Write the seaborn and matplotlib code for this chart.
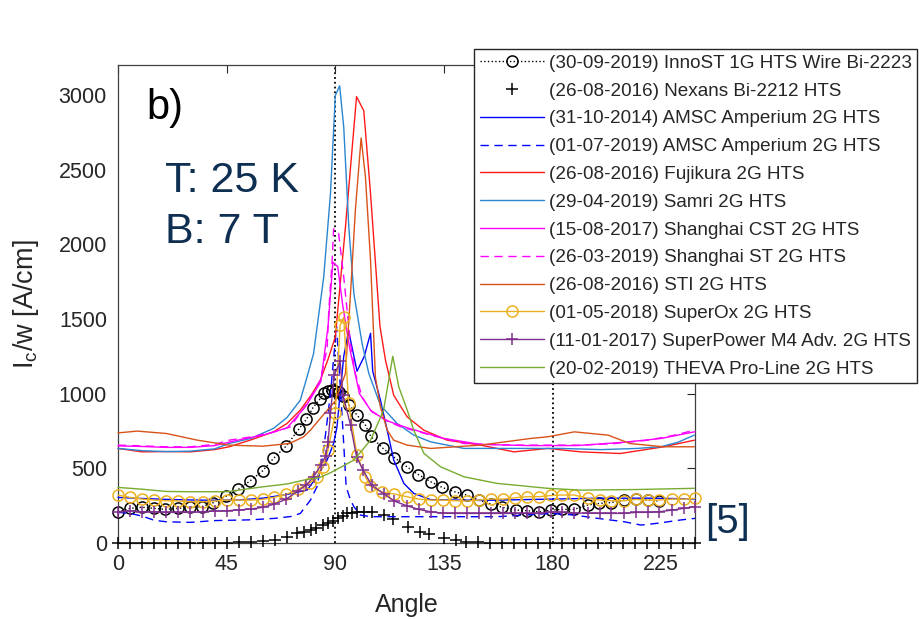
import matplotlib
matplotlib.use("Agg")
import matplotlib.pyplot as plt
import seaborn as sns

# ---- data: critical current per width (A/cm) versus field angle (deg), 25 K / 7 T ----
innost_angle = [0, 5, 10, 15, 19.5, 25, 30, 34.7, 39.5, 44.8, 49.9, 54.8, 59.9, 64.4, 69.7,
                74.8, 78, 80.8, 83.8, 85.5, 87, 88.5, 90, 91.5, 93, 95.6, 99, 102.5, 104.6,
                109.8, 114.5, 119.5, 124.4, 129.5, 134.3, 139.4, 144.4, 149.5, 154.4, 159.2,
                164.7, 169.6, 174.4, 179.3, 184.1, 188.9, 194.5, 199.3, 204.1, 209.7, 214.5,
                219.4, 224.2]
innost_jc = [209, 232, 239, 232, 225, 232, 239, 243, 270, 314, 359, 417, 483, 566, 650,
             760, 827, 907, 967, 1005, 1020, 1025, 1020, 1010, 985, 925, 856, 789, 715,
             633, 572, 512, 458, 410, 372, 343, 321, 287, 261, 239,
             221, 216, 209, 220, 225, 225, 254, 265, 270, 287, 294,
             287, 281]

nexans_angle = [0, 5, 10, 15, 20, 25, 30, 35, 40, 45, 50, 55, 60, 65, 70, 74, 77, 80, 82, 85,
                87, 89, 91, 93, 95, 97, 99, 102, 105, 110, 114, 120, 125, 129, 135, 140, 144,
                149, 154, 159, 164, 169, 174, 179, 184, 189, 194, 199, 204, 209, 214, 219,
                224, 229, 234, 239]
nexans_jc = [0, 0, 0, 0, 0, 0, 0, 0, 0, 2, 5, 9, 13, 20, 38, 65, 76, 87, 98, 120,
             136, 149, 165, 180, 198, 200, 210, 210, 205, 190, 158, 109, 76, 60, 31, 20, 9,
             5, 2, 0, 0, 0, 0, 0, 0, 0, 0, 0, 0, 0, 0, 0,
             0, 0, 0, 0]

amsc14_angle = [0, 10, 20, 30, 40, 50, 60, 70, 78.3, 82.4, 86.6, 89.3, 90.7, 92, 93.5,
                95.5, 99, 102, 104.6, 105.5, 108.7, 111.5, 114.2, 118.4, 122.5, 129.5,
                150, 180, 200, 220, 239]
amsc14_jc = [305, 298, 292, 288, 286, 288, 300, 325, 354, 443, 555, 666, 778, 1000, 1250,
             1420, 1150, 1250, 1404, 1150, 956, 755, 555, 399, 332, 290,
             285, 294, 300, 300, 295]

amsc19_angle = [0, 5, 10, 15, 20, 30, 40, 55, 65, 72, 75.5, 79.7, 82.4, 85, 88, 90.5, 93,
                94.5, 96.3, 97.7, 100.4, 104.6, 130, 157, 179, 189, 198.6, 209.7, 216.6,
                223.5, 233, 239]
amsc19_jc = [205, 198, 180, 152, 142, 138, 150, 155, 165, 178, 198, 287, 376, 600, 1000, 1450, 800,
             376, 287, 243, 187, 176, 176, 176, 198, 187, 165, 142, 120,
             132, 154, 165]

fujikura_angle = [0, 10, 20, 30, 40, 46, 55, 64.4, 70, 75.5, 80, 83.8, 87, 90, 94.2, 98.8,
                  101.8, 104.6, 108.5, 110.8, 114.2, 119.8, 126.7, 136.4, 150.2, 164, 177.9,
                  191.7, 208, 226, 238.7]
fujikura_jc = [633, 610, 612, 610, 625, 644, 690, 744, 800, 889, 990, 1090, 1230, 1379, 2114, 2988,
               2894, 2338, 1450, 1223, 989, 844, 755, 688, 655, 610, 633,
               610, 599, 644, 688]

samri_angle = [0, 10, 20, 30, 40, 46, 55, 64.4, 70, 75.5, 78.3, 81, 85.2, 88, 90, 91.8, 93.5,
               95.6, 97.7, 101.1, 103.9, 108.7, 115.6, 122.5, 129.5, 143.3, 164, 183.4, 200,
               215, 225, 232, 238.7]
samri_jc = [633, 618, 612, 615, 630, 666, 700, 767, 840, 956, 1112, 1268, 1780, 2338, 2995, 3061, 2783,
            2114, 1669, 1335, 1134, 922, 800, 722, 677, 633, 633, 633, 625,
            633, 645, 675, 722]

cst_angle = [0, 10, 20, 30, 40, 50, 60, 70, 78, 84, 87, 89, 91, 93, 96, 100, 105, 112, 120,
             135, 150, 170, 190, 210, 225, 239]
cst_jc = [650, 646, 640, 640, 652, 690, 722, 770, 920, 1080, 1450, 1880, 1850, 1600, 1300, 1000,
          880, 815, 770, 700, 660, 652, 652, 675, 700, 745]

st_angle = [0, 10, 20, 30, 40, 46, 55, 64, 71.4, 78.3, 83.8, 86.6, 87.3, 88.7, 89.3, 91.4,
            93.5, 96.3, 98.3, 101.1, 104.6, 110.8, 117, 129.5, 143.3, 164, 183, 191.7, 205,
            219.4, 230, 238.7]
st_jc = [655, 650, 644, 644, 660, 688, 710, 740, 778, 934, 1090, 1300, 1557, 1892, 2103, 2070,
         1780, 1335, 1134, 978, 889, 822, 778, 722, 666, 655, 655, 655, 665,
         688, 720, 755]

sti_angle = [0, 8, 20, 33, 46, 60, 71, 76.9, 79.7, 85.5, 90, 94.2, 96.3, 98.3, 100.7, 102.5,
             104.6, 106.6, 108.7, 111.5, 114.2, 119.8, 129.5, 150, 171, 178, 189, 203, 212,
             226, 238.7]
sti_jc = [737, 749, 733, 688, 655, 648, 666, 711, 755, 867, 950, 1134, 1669, 2226, 2712, 2448,
          1892, 1112, 911, 755, 688, 655, 633, 655, 700, 711, 744, 722, 666,
          644, 644]

superox_angle = [0, 5, 10, 15, 20, 25, 30, 35, 40, 45, 50, 55, 60, 64.5, 69.5, 74.5, 79.5,
                 82.5, 85, 87, 90, 92, 93.5, 95.5, 99, 102.5, 104.5, 109.5, 114.5, 119.5,
                 124.5, 129.5, 134.5, 139.5, 144.5, 149.5, 154.5, 159.5, 164.5, 169.5, 174.5,
                 179.5, 184, 189, 194.5, 199.5, 204, 209.5, 214.5, 219.5, 224, 229.5, 234.5,
                 239]
superox_jc = [321, 305, 294, 287, 283, 281, 276, 276, 281, 287, 287, 287, 292, 305, 325, 359, 403,
              443, 510, 622, 871, 1457, 1513, 934, 588, 443, 381, 340, 328, 310,
              294, 287, 287, 283, 281, 287, 294, 294, 303, 310, 310,
              318, 321, 321, 299, 287, 283, 283, 292, 287, 287, 294, 294,
              299]

superpower_angle = [0, 5, 10, 15, 20, 25, 30, 35, 40, 45, 50, 55, 60, 64.5, 69.5, 74.5, 78,
                    81, 84, 86, 87, 88, 89.5, 92, 93.2, 96.3, 98.8, 101.5, 105, 110, 114.5,
                    119.5, 124.5, 129.5, 134.5, 139.5, 144.5, 149.5, 154.5, 159.5, 164.5,
                    169.5, 174.5, 179.5, 184, 189, 194.5, 199.5, 204, 209.5, 214.5, 219.5,
                    224, 229.5, 234.5, 239]
superpower_jc = [209, 216, 209, 209, 205, 205, 205, 209, 214, 216, 221, 227, 239, 259, 292, 348, 388,
                 443, 521, 582, 677, 867, 1123, 1215, 989, 789, 577, 488, 388, 330, 280,
                 250, 225, 209, 200, 198, 198, 198, 198, 198, 198,
                 198, 198, 209, 205, 200, 200, 198, 198, 198, 205, 205,
                 209, 220, 232, 243]

theva_angle = [0, 10, 20, 30, 45, 60, 70, 77, 83.8, 88, 97.7, 104.6, 110, 113.8, 116.3, 119.8,
               122.5, 126.7, 133.6, 143.3, 157, 177.9, 191.7, 215, 238.7]
theva_jc = [372, 360, 345, 343, 343, 376, 395, 421, 440, 470, 555, 688, 889, 1250, 1045, 889,
            755, 600, 510, 443, 399, 366, 354, 358, 366]

x_ticks = [0, 45, 90, 135, 180, 225]
y_ticks = [0, 500, 1000, 1500, 2000, 2500, 3000]

series = [
    ("(30-09-2019) InnoST 1G HTS Wire Bi-2223", innost_angle, innost_jc,
     dict(color="black", linestyle=":", marker="o", markersize=8, markerfacecolor="none")),
    ("(26-08-2016) Nexans Bi-2212 HTS", nexans_angle, nexans_jc,
     dict(color="black", linestyle="none", marker="+", markersize=8)),
    ("(31-10-2014) AMSC Amperium 2G HTS", amsc14_angle, amsc14_jc,
     dict(color="#0000FF", linestyle="-")),
    ("(01-07-2019) AMSC Amperium 2G HTS", amsc19_angle, amsc19_jc,
     dict(color="#0000FF", linestyle=(0, (6, 4)))),
    ("(26-08-2016) Fujikura 2G HTS", fujikura_angle, fujikura_jc,
     dict(color="#FF1A1A", linestyle="-")),
    ("(29-04-2019) Samri 2G HTS", samri_angle, samri_jc,
     dict(color="#2A86D0", linestyle="-")),
    ("(15-08-2017) Shanghai CST 2G HTS", cst_angle, cst_jc,
     dict(color="#FF00FF", linestyle="-")),
    ("(26-03-2019) Shanghai ST 2G HTS", st_angle, st_jc,
     dict(color="#FF00FF", linestyle=(0, (6, 4)))),
    ("(26-08-2016) STI 2G HTS", sti_angle, sti_jc,
     dict(color="#D95319", linestyle="-")),
    ("(01-05-2018) SuperOx 2G HTS", superox_angle, superox_jc,
     dict(color="#EDB120", linestyle="-", marker="o", markersize=8, markerfacecolor="none")),
    ("(11-01-2017) SuperPower M4 Adv. 2G HTS", superpower_angle, superpower_jc,
     dict(color="#7E2F8E", linestyle="-", marker="+", markersize=9)),
    ("(20-02-2019) THEVA Pro-Line 2G HTS", theva_angle, theva_jc,
     dict(color="#77AC30", linestyle="-")),
]

sns.set_theme(style="white")
plt.rcParams["font.family"] = ["Liberation Sans", "DejaVu Sans"]
plt.rcParams["mathtext.fontset"] = "custom"
plt.rcParams["mathtext.rm"] = "Liberation Sans"
plt.rcParams["mathtext.it"] = "Liberation Sans"

fig = plt.figure(figsize=(9.19, 6.19), dpi=100)
ax = fig.add_axes([0.1284, 0.1228, 0.6279, 0.7722])

handles, labels = [], []
for label, ang, jc, style in series:
    style = dict(style)
    color = style.pop("color")
    kws = dict(color=color, linewidth=1.0, markeredgecolor=color, markeredgewidth=1.1)
    kws.update(style)
    sns.lineplot(x=ang, y=jc, ax=ax, estimator=None, sort=False, legend=False, **kws)
    line = ax.lines[-1]
    line.set_clip_on(False)
    line.set_zorder(3)
    handles.append(line)
    labels.append(label)

# reference angles (ab-plane alignment)
for a in (90, 180):
    ax.axvline(a, color="black", linestyle=":", linewidth=1.3, zorder=0.5)

ax.set_xlim(0, 239)
ax.set_ylim(0, 3200)
ax.set_xticks(x_ticks)
ax.set_yticks(y_ticks)
ax.tick_params(direction="in", length=6, width=0.8, top=True, right=True,
               labelsize=15.5, colors="#262626", pad=8)
for s in ax.spines.values():
    s.set_color("#404040")
    s.set_linewidth(0.9)

ax.set_xlabel("Angle", fontsize=18, color="#262626")
ax.xaxis.set_label_coords(0.5, -0.105)
ax.xaxis.label.set_va("top")
ax.set_ylabel(r"I$_\mathregular{c}$/w [A/cm]", fontsize=19.5, color="#262626")
ax.yaxis.set_label_coords(-0.16, 0.5)
ax.yaxis.label.set_va("center")

leg = ax.legend(handles, labels, loc="upper left",
                bbox_to_anchor=(474 / 919, 1 - 49 / 619), bbox_transform=fig.transFigure,
                frameon=True, fancybox=False, framealpha=1, edgecolor="#262626",
                fontsize=13.6, handlelength=3.4, handletextpad=0.25, borderpad=0.3,
                labelspacing=0.56, borderaxespad=0, numpoints=1)
leg.get_frame().set_linewidth(1.0)
leg.set_zorder(5)
for t in leg.get_texts():
    t.set_color("#262626")

navy = "#0F2F52"
fig.text(0.1596, 0.8073, "b)", fontsize=30, color="black", va="baseline")
fig.text(0.1795, 0.690, "T: 25 K", fontsize=31, color=navy, va="baseline")
fig.text(0.1795, 0.608, "B: 7 T", fontsize=31, color=navy, va="baseline")
fig.text(0.767, 0.139, "[5]", fontsize=29, color=navy, va="baseline")

fig.savefig("out.png", dpi=100)
